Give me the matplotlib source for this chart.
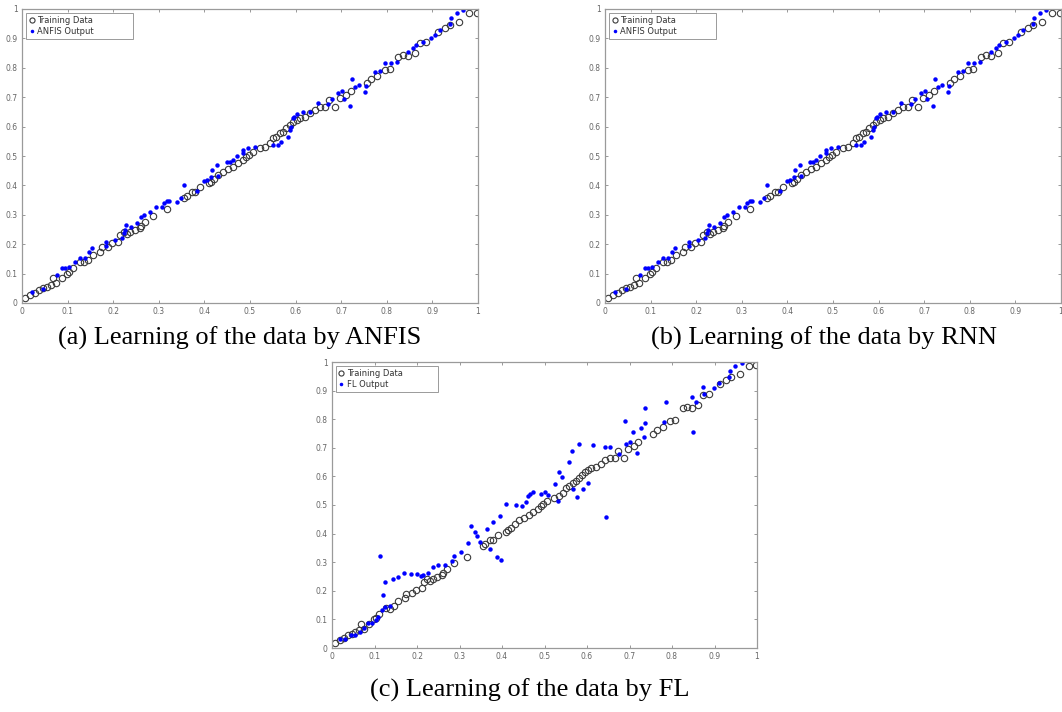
import matplotlib.pyplot as plt

# training data (same set in all three panels)
train_x = [0.007, 0.018, 0.029, 0.038, 0.047, 0.055, 0.063, 0.069, 0.075, 0.087,
           0.098, 0.104, 0.111, 0.127, 0.136, 0.145, 0.156, 0.171, 0.175, 0.189,
           0.197, 0.211, 0.216, 0.224, 0.230, 0.237, 0.248, 0.259, 0.262, 0.270,
           0.287, 0.317, 0.355, 0.361, 0.372, 0.379, 0.390, 0.409, 0.414, 0.420,
           0.430, 0.440, 0.452, 0.463, 0.474, 0.484, 0.491, 0.497, 0.507, 0.522,
           0.533, 0.544, 0.551, 0.558, 0.566, 0.573, 0.580, 0.588, 0.595, 0.602,
           0.610, 0.621, 0.632, 0.643, 0.654, 0.665, 0.674, 0.686, 0.697, 0.711,
           0.721, 0.756, 0.765, 0.778, 0.796, 0.806, 0.825, 0.836, 0.847, 0.862,
           0.873, 0.887, 0.913, 0.928, 0.939, 0.959, 0.980, 0.997]
train_y = [0.016, 0.027, 0.035, 0.044, 0.050, 0.055, 0.062, 0.084, 0.068, 0.084,
           0.100, 0.104, 0.118, 0.140, 0.138, 0.146, 0.163, 0.175, 0.189, 0.192,
           0.203, 0.209, 0.231, 0.243, 0.236, 0.243, 0.248, 0.254, 0.262, 0.277,
           0.296, 0.319, 0.356, 0.364, 0.379, 0.379, 0.396, 0.407, 0.413, 0.421,
           0.435, 0.447, 0.455, 0.464, 0.476, 0.486, 0.498, 0.505, 0.515, 0.526,
           0.532, 0.543, 0.560, 0.565, 0.577, 0.583, 0.594, 0.605, 0.617, 0.622,
           0.628, 0.634, 0.645, 0.656, 0.666, 0.666, 0.690, 0.666, 0.696, 0.707,
           0.722, 0.747, 0.762, 0.772, 0.793, 0.796, 0.838, 0.844, 0.840, 0.849,
           0.883, 0.887, 0.922, 0.937, 0.946, 0.957, 0.985, 0.988]

# ANFIS output (panel a) - RNN output in panel b reads the same
anfis_x = [0.021, 0.045, 0.076, 0.087, 0.094, 0.102, 0.116, 0.127, 0.138, 0.148,
           0.153, 0.184, 0.185, 0.204, 0.219, 0.223, 0.226, 0.228, 0.240, 0.252,
           0.262, 0.268, 0.281, 0.294, 0.306, 0.311, 0.317, 0.323, 0.341, 0.348,
           0.355, 0.384, 0.399, 0.405, 0.414, 0.416, 0.428, 0.430, 0.449, 0.456,
           0.463, 0.471, 0.485, 0.485, 0.496, 0.511, 0.550, 0.562, 0.569, 0.584,
           0.588, 0.591, 0.595, 0.597, 0.604, 0.617, 0.632, 0.650, 0.672, 0.679,
           0.692, 0.701, 0.706, 0.719, 0.724, 0.730, 0.739, 0.752, 0.754, 0.774,
           0.784, 0.797, 0.810, 0.823, 0.847, 0.858, 0.865, 0.880, 0.896, 0.906,
           0.917, 0.939, 0.940, 0.953, 0.968]
anfis_y = [0.039, 0.047, 0.095, 0.118, 0.118, 0.124, 0.140, 0.152, 0.152, 0.175,
           0.186, 0.209, 0.195, 0.214, 0.220, 0.237, 0.248, 0.265, 0.259, 0.271,
           0.294, 0.299, 0.311, 0.325, 0.328, 0.339, 0.348, 0.348, 0.345, 0.356,
           0.401, 0.382, 0.416, 0.418, 0.430, 0.452, 0.469, 0.433, 0.481, 0.481,
           0.486, 0.500, 0.509, 0.520, 0.526, 0.532, 0.537, 0.537, 0.548, 0.566,
           0.588, 0.599, 0.628, 0.634, 0.642, 0.651, 0.651, 0.681, 0.677, 0.693,
           0.713, 0.722, 0.693, 0.670, 0.762, 0.736, 0.741, 0.719, 0.738, 0.787,
           0.789, 0.815, 0.817, 0.820, 0.855, 0.866, 0.877, 0.887, 0.900, 0.911,
           0.928, 0.949, 0.968, 0.985, 0.997]
rnn_x = anfis_x
rnn_y = anfis_y

# FL output (panel c)
fl_x = [0.019, 0.030, 0.044, 0.054, 0.066, 0.075, 0.084, 0.093, 0.103, 0.109,
        0.113, 0.117, 0.121, 0.125, 0.125, 0.136, 0.143, 0.156, 0.169, 0.185,
        0.199, 0.209, 0.213, 0.227, 0.238, 0.249, 0.266, 0.282, 0.286, 0.303,
        0.319, 0.327, 0.336, 0.340, 0.348, 0.364, 0.372, 0.378, 0.388, 0.397,
        0.395, 0.409, 0.433, 0.448, 0.456, 0.460, 0.466, 0.472, 0.491, 0.501,
        0.509, 0.525, 0.532, 0.535, 0.542, 0.558, 0.565, 0.566, 0.576, 0.580,
        0.591, 0.603, 0.615, 0.642, 0.645, 0.654, 0.675, 0.690, 0.692, 0.700,
        0.709, 0.717, 0.726, 0.735, 0.736, 0.736, 0.781, 0.787, 0.848, 0.850,
        0.856, 0.872, 0.876, 0.899, 0.911, 0.934, 0.936, 0.948, 0.964]
fl_y = [0.030, 0.033, 0.045, 0.047, 0.057, 0.069, 0.086, 0.088, 0.097, 0.107,
        0.322, 0.133, 0.185, 0.232, 0.143, 0.147, 0.240, 0.249, 0.263, 0.259,
        0.258, 0.252, 0.254, 0.261, 0.284, 0.290, 0.290, 0.305, 0.322, 0.337,
        0.366, 0.427, 0.407, 0.392, 0.372, 0.415, 0.345, 0.442, 0.317, 0.308,
        0.462, 0.503, 0.500, 0.497, 0.512, 0.531, 0.538, 0.544, 0.537, 0.547,
        0.535, 0.573, 0.515, 0.614, 0.597, 0.649, 0.690, 0.555, 0.529, 0.712,
        0.556, 0.576, 0.709, 0.703, 0.459, 0.703, 0.678, 0.795, 0.712, 0.720,
        0.755, 0.681, 0.768, 0.739, 0.839, 0.786, 0.791, 0.860, 0.879, 0.754,
        0.861, 0.914, 0.888, 0.908, 0.928, 0.947, 0.969, 0.986, 0.998]

ticks = [0, 0.1, 0.2, 0.3, 0.4, 0.5, 0.6, 0.7, 0.8, 0.9, 1]
tick_labels = ['0', '0.1', '0.2', '0.3', '0.4', '0.5', '0.6', '0.7', '0.8', '0.9', '1']

captions = ['(a) Learning of the data by ANFIS',
            '(b) Learning of the data by RNN',
            '(c) Learning of the data by FL']


def draw_panel(ax, out_x, out_y, out_label, leg_w):
    ax.plot(train_x, train_y, 'o', mfc='none', mec='#3a3a3a', ms=4.6, mew=0.8,
            label='Training Data')
    ax.plot(out_x, out_y, 'o', mfc='#0000ff', mec='#0000ff', ms=3.2, mew=0,
            label=out_label)
    ax.set_xlim(0, 1)
    ax.set_ylim(0, 1)
    ax.set_xticks(ticks)
    ax.set_xticklabels(tick_labels)
    ax.set_yticks(ticks)
    ax.set_yticklabels(tick_labels)
    ax.tick_params(direction='in', top=True, right=True, length=2.5, width=0.6,
                   labelsize=5.5, labelcolor='#666666', color='#888888', pad=3)
    for s in ax.spines.values():
        s.set_color('#9a9a9a')
        s.set_linewidth(0.9)
    # MATLAB-style legend box, wider than its text
    leg = ax.legend(loc='upper left', bbox_to_anchor=(0.009, 0.0, leg_w, 0.986),
                    mode='expand', fontsize=6, frameon=True, fancybox=False,
                    framealpha=1, edgecolor='#9a9a9a', handlelength=0.6,
                    handletextpad=0.4, borderpad=0.35, labelspacing=0.2,
                    borderaxespad=0, markerscale=0.8)
    leg.get_frame().set_linewidth(0.7)
    for t in leg.get_texts():
        t.set_color('#333333')


fig = plt.figure(figsize=(10.62, 7.12), dpi=100)

ax_a = fig.add_axes([22 / 1062, 1 - 303 / 712, 456 / 1062, 294 / 712])
draw_panel(ax_a, anfis_x, anfis_y, 'ANFIS Output', 0.235)

ax_b = fig.add_axes([605 / 1062, 1 - 303 / 712, 456 / 1062, 294 / 712])
draw_panel(ax_b, rnn_x, rnn_y, 'ANFIS Output', 0.235)

ax_c = fig.add_axes([332 / 1062, 1 - 648 / 712, 425 / 1062, 286 / 712])
draw_panel(ax_c, fl_x, fl_y, 'FL Output', 0.24)

cap_font = dict(family='Liberation Serif', size=19, color='black', ha='center', va='baseline')
fig.text(240 / 1062, 1 - 345 / 712, captions[0], **cap_font)
fig.text(824 / 1062, 1 - 345 / 712, captions[1], **cap_font)
fig.text(530 / 1062, 1 - 697 / 712, captions[2], **cap_font)

fig.savefig('out.png', dpi=100)
